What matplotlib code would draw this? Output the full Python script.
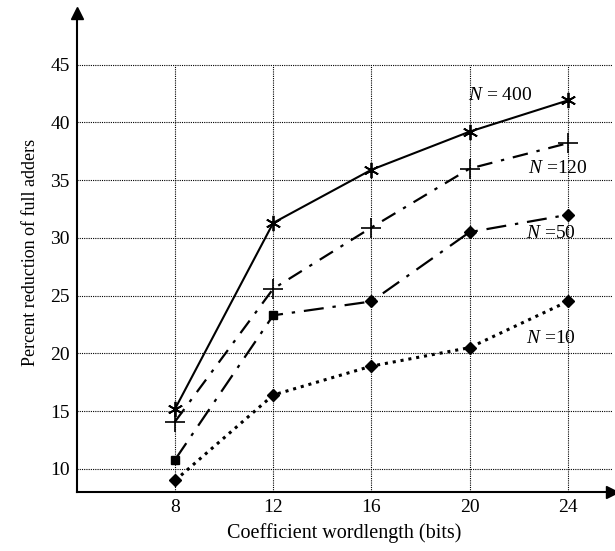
import matplotlib.pyplot as plt

plt.rcParams['font.family'] = ['Liberation Serif', 'DejaVu Serif']
plt.rcParams['mathtext.fontset'] = 'custom'
plt.rcParams['mathtext.it'] = 'Liberation Serif:italic'
plt.rcParams['mathtext.rm'] = 'Liberation Serif'

# data
wordlength = [8, 12, 16, 20, 24]
n400 = [15.2, 31.3, 35.9, 39.2, 41.9]
n120 = [14.1, 25.6, 30.9, 36.0, 38.2]
n50 = [10.8, 23.3, 24.5, 30.5, 32.0]
n10 = [9.0, 16.4, 18.9, 20.5, 24.5]
yticks = [10, 15, 20, 25, 30, 35, 40, 45]

fig = plt.figure(figsize=(6.15, 5.51), dpi=100)
ax = fig.add_axes([0.125, 0.107, 0.87, 0.87])
ax.set_xlim(4, 25.8)
ax.set_ylim(8, 49.5)

# dotted grid, stops at 45
for x in wordlength:
    ax.plot([x, x], [8, 45], color='black', lw=0.8, ls=(0, (1, 1)), zorder=1)
for y in yticks:
    ax.plot([4, 25.8], [y, y], color='black', lw=0.8, ls=(0, (1, 1)), zorder=1, clip_on=False)

ax.plot(wordlength, n400, color='black', lw=1.5, ls='-', marker=(6, 2, 0), ms=11, mew=1.3, zorder=3)
ax.plot(wordlength, n120, color='black', lw=1.6, ls=(0, (7, 4, 1.5, 4)), marker='+', ms=15, mew=1.2, zorder=3)
ax.plot(wordlength, n50, color='black', lw=1.6, ls=(0, (9, 4, 1.5, 4)), zorder=3)
ax.plot(wordlength[:2], n50[:2], ls='none', marker='s', ms=6, color='black', zorder=3)
ax.plot(wordlength[2:], n50[2:], ls='none', marker='D', ms=6, color='black', zorder=3)
ax.plot(wordlength, n10, color='black', lw=2.2, ls=(0, (1, 1.6)), marker='D', ms=6, zorder=3)

ax.text(19.95, 42.3, r'$N$ = 400', fontsize=14, va='center', ha='left')
ax.text(22.4, 36.0, r'$N$ =120', fontsize=14, va='center', ha='left')
ax.text(22.3, 30.4, r'$N$ =50', fontsize=14, va='center', ha='left')
ax.text(22.3, 21.3, r'$N$ =10', fontsize=14, va='center', ha='left')

for s in ['top', 'right']:
    ax.spines[s].set_visible(False)
ax.spines['left'].set_linewidth(1.5)
ax.spines['bottom'].set_linewidth(1.5)
ax.plot(1, 0, '>k', ms=9, transform=ax.transAxes, clip_on=False)
ax.plot(0, 1, '^k', ms=9, transform=ax.transAxes, clip_on=False)

ax.set_xticks(wordlength)
ax.set_yticks(yticks)
ax.tick_params(length=0, labelsize=14, pad=5)
ax.set_xlabel('Coefficient wordlength (bits)', fontsize=14.5, labelpad=5)
ax.set_ylabel('Percent reduction of full adders', fontsize=13, labelpad=8)

fig.savefig('out.png', dpi=100)
